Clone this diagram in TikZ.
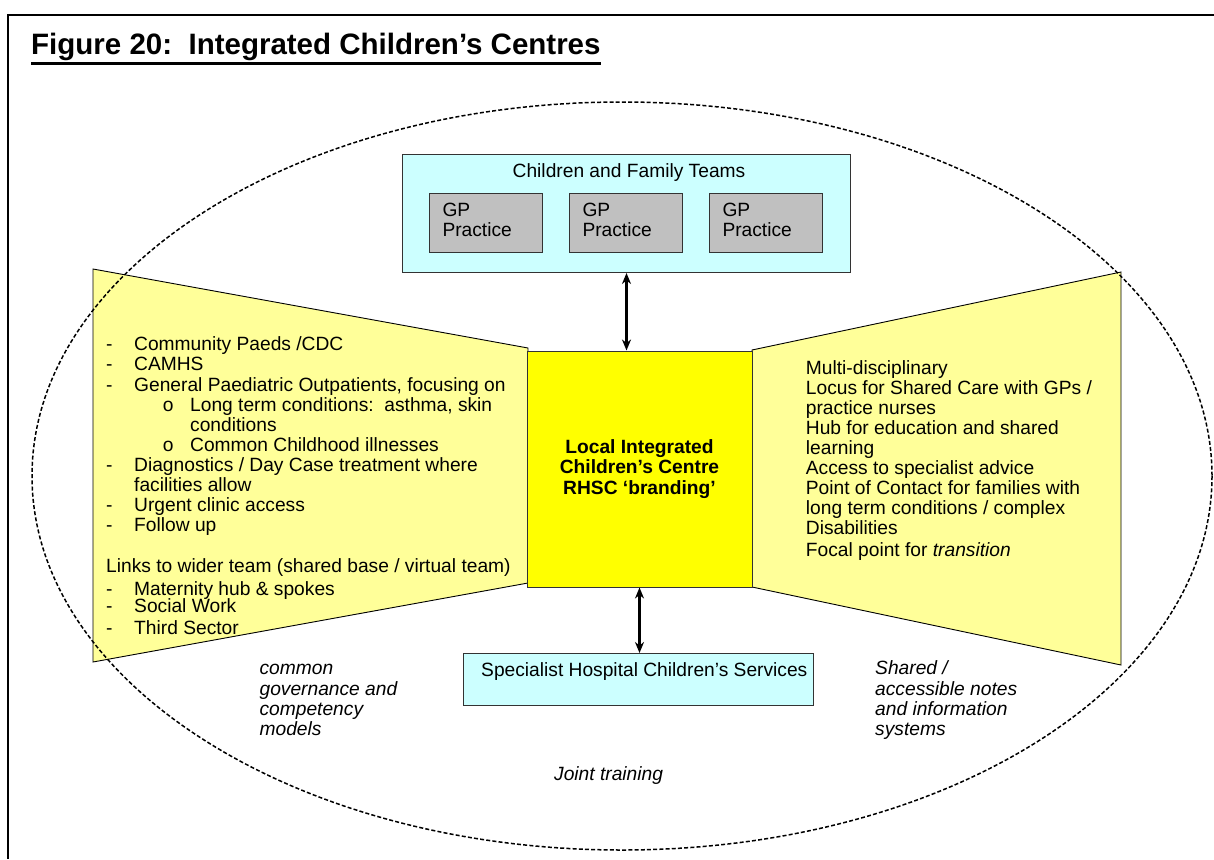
\documentclass[tikz,border=0pt]{standalone}
\usepackage{fontspec}
\setmainfont{Liberation Sans}
\usetikzlibrary{arrows.meta}
\definecolor{paleblue}{HTML}{CCFFFF}
\definecolor{gpgrey}{HTML}{C0C0C0}
\definecolor{brightyellow}{HTML}{FFFF00}
\definecolor{paleyellow}{HTML}{FFFF99}
\newcommand{\dsh}{\makebox[28pt][l]{-}}
\newcommand{\subb}{\hspace*{56.7pt}\makebox[27.3pt][l]{o}}
\begin{document}
\begin{tikzpicture}[x=1pt,y=-1pt,
  txt/.style={font=\fontsize{19.2}{20.1}\selectfont, inner sep=0pt},
  itxt/.style={font=\fontsize{19.2}{20.3}\selectfont\itshape, inner sep=0pt},
  box/.style={draw=black!80, line width=1pt, inner sep=0pt, anchor=north west},
  wing/.style={fill=paleyellow, draw=black, line width=0.9pt},
  dbl/.style={{Stealth[length=11pt,width=9pt]}-{Stealth[length=11pt,width=9pt]}, line width=2.2pt},
  ring/.style={dash pattern=on 4pt off 2.2pt, line width=1.5pt}
]
\useasboundingbox (0,0) rectangle (1214,859);
% frame
\draw[line width=2pt] (1214,15) -- (8,15) -- (8,859);
% title
\node[anchor=base west, inner sep=0pt, font=\fontsize{29.5}{30}\selectfont\bfseries] (title) at (31,54.3) {Figure 20:\ \ Integrated Children’s Centres};
\draw[line width=2.8pt] ([yshift=-9.5pt]title.base west) -- ([yshift=-9.5pt]title.base east);
% side wings
\filldraw[wing] (93,269) -- (528,348) -- (528,583) -- (93,662) -- cycle;
\filldraw[wing] (752,350) -- (1121,272) -- (1121,665) -- (752,587) -- cycle;
% dashed ring
\draw[ring] (622,476) ellipse [x radius=590, y radius=374];
% top box
\node[box, fill=paleblue, minimum width=448pt, minimum height=118pt] (cft) at (402,154) {};
\node[txt, anchor=base] (cftlabel) at (629,177.3) {Children and Family Teams};
\node[box, fill=gpgrey, minimum width=113pt, minimum height=59pt] (gp1) at (429,193) {};
\node[box, fill=gpgrey, minimum width=113pt, minimum height=59pt] (gp2) at (569,193) {};
\node[box, fill=gpgrey, minimum width=113pt, minimum height=59pt] (gp3) at (709,193) {};
\node[txt, anchor=base west, align=left] (gp1t) at (442.3,236.7) {GP\\Practice};
\node[txt, anchor=base west, align=left] (gp2t) at (582.3,236.7) {GP\\Practice};
\node[txt, anchor=base west, align=left] (gp3t) at (722.3,236.7) {GP\\Practice};
% centre box
\node[draw=black!80, line width=1pt, fill=brightyellow, minimum width=225pt, minimum height=236pt, inner sep=0pt, align=center, font=\fontsize{19.2}{20.1}\selectfont\bfseries] (yel) at (639.5,469) {Local Integrated\\Children’s Centre\\RHSC ‘branding’};
% bottom box
\node[box, fill=paleblue, minimum width=350pt, minimum height=52pt] (spec) at (463,653) {};
\node[txt, anchor=base west] (spect) at (481,676.7) {Specialist Hospital Children’s Services};
% arrows
\draw[dbl] (cft.south) -- (cft.south |- yel.north);
\draw[dbl] (yel.south) -- (yel.south |- spec.north);
% left text (anchored at the baseline of its last line)
\node[txt, anchor=base west, align=left] (lefttext) at (106,634) {%
\dsh Community Paeds /CDC\\
\dsh CAMHS\\
\dsh General Paediatric Outpatients, focusing on\\
\subb Long term conditions:\ \ asthma, skin\\
\hspace*{84pt}conditions\\
\subb Common Childhood illnesses\\
\dsh Diagnostics / Day Case treatment where\\
\hspace*{28pt}facilities allow\\
\dsh Urgent clinic access\\
\dsh Follow up\\[20.9pt]
Links to wider team (shared base / virtual team)\\[2.2pt]
\dsh Maternity hub \& spokes\\[-3.1pt]
\dsh Social Work\\[1.9pt]
\dsh Third Sector};
% right text
\node[txt, anchor=base west, align=left] (righttext) at (805.7,556.7) {%
Multi-disciplinary\\
Locus for Shared Care with GPs /\\
practice nurses\\
Hub for education and shared\\
learning\\
Access to specialist advice\\
Point of Contact for families with\\
long term conditions / complex\\
Disabilities\\[1.8pt]
Focal point for \textit{transition}};
% italic notes
\node[itxt, anchor=base west, align=left] (gov) at (259.4,735.7) {common\\governance and\\competency\\models};
\node[itxt, anchor=base west, align=left] (notes) at (875,735.7) {Shared /\\accessible notes\\and information\\systems};
\node[itxt, anchor=base west] (joint) at (554,780.5) {Joint training};
\end{tikzpicture}
\end{document}
